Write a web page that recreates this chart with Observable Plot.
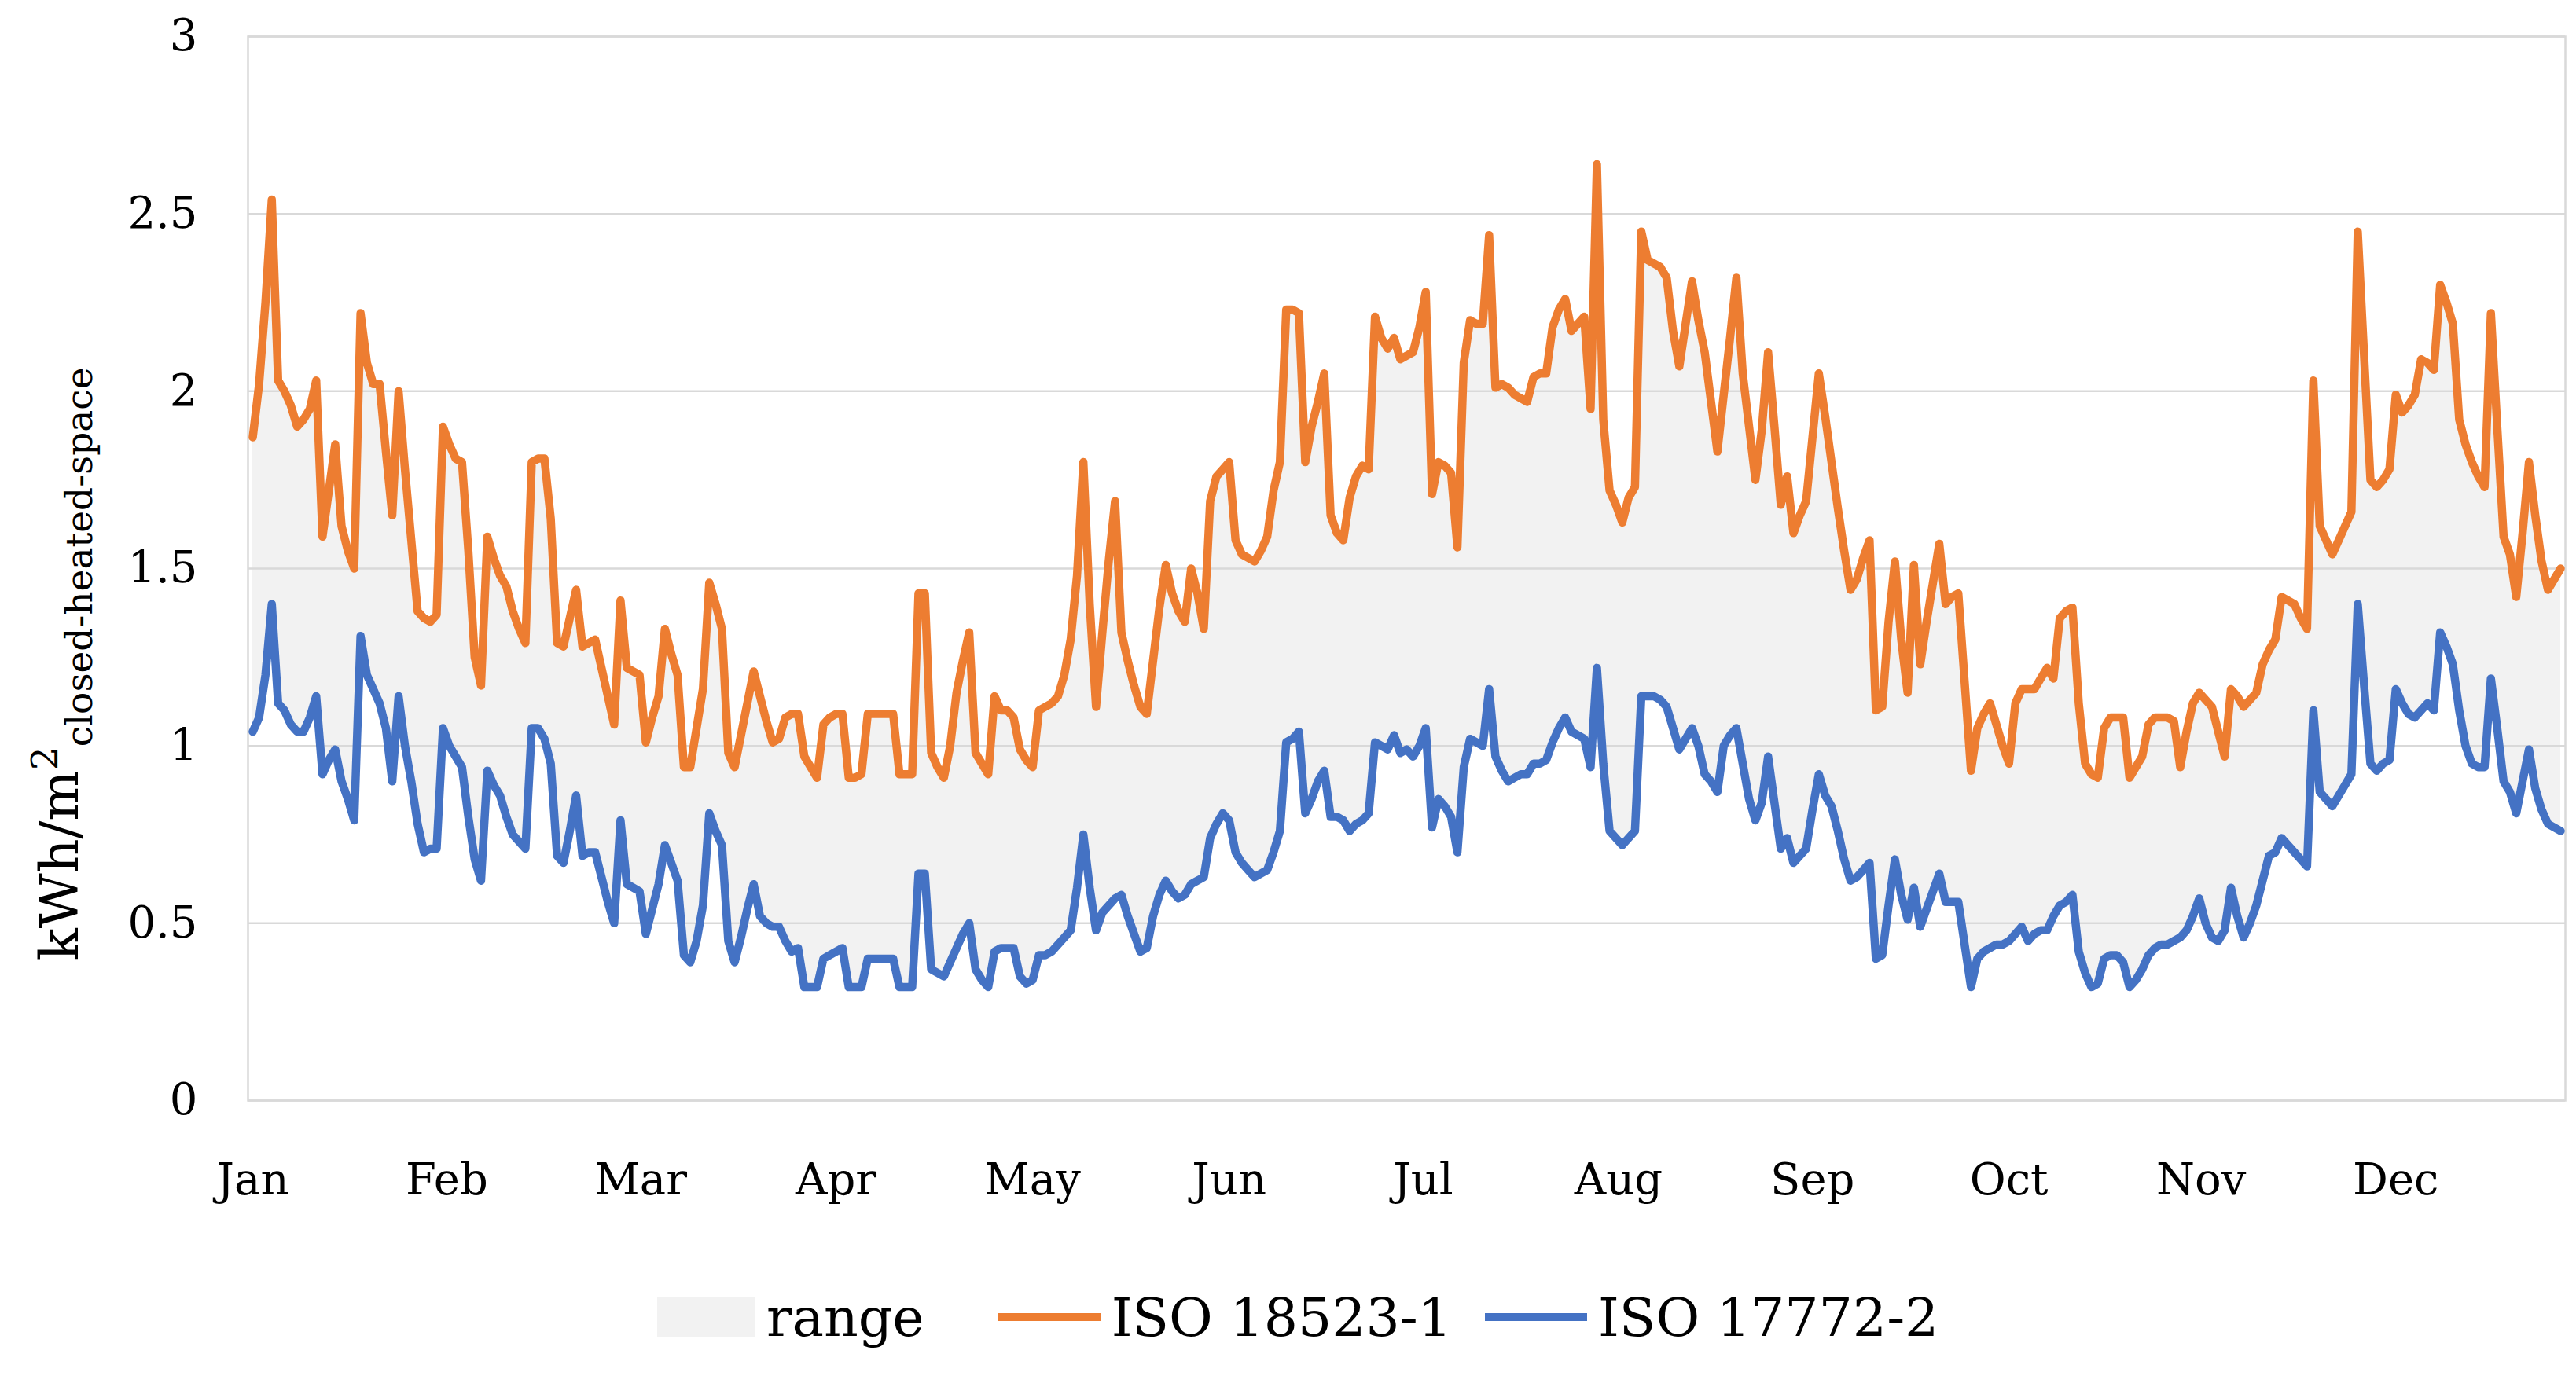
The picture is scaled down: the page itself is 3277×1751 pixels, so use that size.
<!DOCTYPE html>
<html>
<head>
<meta charset="utf-8">
<script src="https://cdn.jsdelivr.net/npm/d3@7"></script>
<script src="https://cdn.jsdelivr.net/npm/@observablehq/plot@0.6"></script>
<style>
  html, body { margin: 0; padding: 0; background: #fff; }
  body { width: 3277px; height: 1751px; overflow: hidden; position: relative; font-family: "DejaVu Serif", serif; }
  #chart { position: absolute; left: 0; top: 0; }
  #legend { position: absolute; left: 0; top: 1626px; width: 3277px; height: 100px;
            display: flex; align-items: center; box-sizing: border-box; padding-left: 836px;
            font-family: "DejaVu Serif", serif; font-size: 68px; color: #000; }
  .sw { display: inline-block; flex: none; }
  .lab { margin-left: 14px; white-space: nowrap; }
</style>
</head>
<body>
<div id="chart"></div>
<div id="legend"></div>
<script>
// ISO 18523-1 daily values (kWh/m2), Jan 1 .. Dec 31
const iso18523 = [
  1.87, 2.02, 2.25, 2.54, 2.03, 2.00, 1.96, 1.90, 1.92, 1.95,
  2.03, 1.59, 1.72, 1.85, 1.62, 1.55, 1.50, 2.22, 2.08, 2.02,
  2.02, 1.83, 1.65, 2.00, 1.78, 1.58, 1.38, 1.36, 1.35, 1.37,
  1.90, 1.85, 1.81, 1.80, 1.55, 1.25, 1.17, 1.59, 1.53, 1.48,
  1.45, 1.38, 1.33, 1.29, 1.80, 1.81, 1.81, 1.64, 1.29, 1.28,
  1.36, 1.44, 1.28, 1.29, 1.30, 1.22, 1.14, 1.06, 1.41, 1.22,
  1.21, 1.20, 1.01, 1.08, 1.14, 1.33, 1.26, 1.20, 0.94, 0.94,
  1.05, 1.16, 1.46, 1.40, 1.33, 0.98, 0.94, 1.03, 1.12, 1.21,
  1.14, 1.07, 1.01, 1.02, 1.08, 1.09, 1.09, 0.97, 0.94, 0.91,
  1.06, 1.08, 1.09, 1.09, 0.91, 0.91, 0.92, 1.09, 1.09, 1.09,
  1.09, 1.09, 0.92, 0.92, 0.92, 1.43, 1.43, 0.98, 0.94, 0.91,
  1.00, 1.15, 1.24, 1.32, 0.98, 0.95, 0.92, 1.14, 1.10, 1.10,
  1.08, 0.99, 0.96, 0.94, 1.10, 1.11, 1.12, 1.14, 1.20, 1.30,
  1.48, 1.80, 1.40, 1.11, 1.32, 1.52, 1.69, 1.32, 1.24, 1.17,
  1.11, 1.09, 1.24, 1.39, 1.51, 1.43, 1.38, 1.35, 1.50, 1.43,
  1.33, 1.69, 1.76, 1.78, 1.80, 1.58, 1.54, 1.53, 1.52, 1.55,
  1.59, 1.72, 1.80, 2.23, 2.23, 2.22, 1.80, 1.90, 1.97, 2.05,
  1.65, 1.60, 1.58, 1.70, 1.76, 1.79, 1.78, 2.21, 2.15, 2.12,
  2.15, 2.09, 2.10, 2.11, 2.18, 2.28, 1.71, 1.80, 1.79, 1.77,
  1.56, 2.08, 2.20, 2.19, 2.19, 2.44, 2.01, 2.02, 2.01, 1.99,
  1.98, 1.97, 2.04, 2.05, 2.05, 2.18, 2.23, 2.26, 2.17, 2.19,
  2.21, 1.95, 2.64, 1.92, 1.72, 1.68, 1.63, 1.70, 1.73, 2.45,
  2.37, 2.36, 2.35, 2.32, 2.17, 2.07, 2.19, 2.31, 2.20, 2.11,
  1.97, 1.83, 1.99, 2.15, 2.32, 2.05, 1.90, 1.75, 1.89, 2.11,
  1.90, 1.68, 1.76, 1.60, 1.65, 1.69, 1.87, 2.05, 1.93, 1.80,
  1.67, 1.55, 1.44, 1.47, 1.53, 1.58, 1.10, 1.11, 1.35, 1.52,
  1.30, 1.15, 1.51, 1.23, 1.35, 1.46, 1.57, 1.40, 1.42, 1.43,
  1.18, 0.93, 1.05, 1.09, 1.12, 1.06, 1.00, 0.95, 1.12, 1.16,
  1.16, 1.16, 1.19, 1.22, 1.19, 1.36, 1.38, 1.39, 1.12, 0.95,
  0.92, 0.91, 1.05, 1.08, 1.08, 1.08, 0.91, 0.94, 0.97, 1.06,
  1.08, 1.08, 1.08, 1.07, 0.94, 1.04, 1.12, 1.15, 1.13, 1.11,
  1.04, 0.97, 1.16, 1.14, 1.11, 1.13, 1.15, 1.23, 1.27, 1.30,
  1.42, 1.41, 1.40, 1.36, 1.33, 2.03, 1.62, 1.58, 1.54, 1.58,
  1.62, 1.66, 2.45, 2.10, 1.75, 1.73, 1.75, 1.78, 1.99, 1.94,
  1.96, 1.99, 2.09, 2.08, 2.06, 2.30, 2.25, 2.19, 1.92, 1.85,
  1.80, 1.76, 1.73, 2.22, 1.90, 1.59, 1.54, 1.42, 1.60, 1.80,
  1.65, 1.52, 1.44, 1.47, 1.50
];

// ISO 17772-2 daily values (kWh/m2), Jan 1 .. Dec 31
const iso17772 = [
  1.04, 1.08, 1.20, 1.40, 1.12, 1.10, 1.06, 1.04, 1.04, 1.08,
  1.14, 0.92, 0.96, 0.99, 0.90, 0.85, 0.79, 1.31, 1.20, 1.16,
  1.12, 1.05, 0.90, 1.14, 1.00, 0.90, 0.78, 0.70, 0.71, 0.71,
  1.05, 1.00, 0.97, 0.94, 0.80, 0.68, 0.62, 0.93, 0.89, 0.86,
  0.80, 0.75, 0.73, 0.71, 1.05, 1.05, 1.02, 0.95, 0.69, 0.67,
  0.76, 0.86, 0.69, 0.70, 0.70, 0.63, 0.56, 0.50, 0.79, 0.61,
  0.60, 0.59, 0.47, 0.54, 0.61, 0.72, 0.67, 0.62, 0.41, 0.39,
  0.45, 0.55, 0.81, 0.76, 0.72, 0.45, 0.39, 0.46, 0.54, 0.61,
  0.52, 0.50, 0.49, 0.49, 0.45, 0.42, 0.43, 0.32, 0.32, 0.32,
  0.40, 0.41, 0.42, 0.43, 0.32, 0.32, 0.32, 0.40, 0.40, 0.40,
  0.40, 0.40, 0.32, 0.32, 0.32, 0.64, 0.64, 0.37, 0.36, 0.35,
  0.39, 0.43, 0.47, 0.50, 0.37, 0.34, 0.32, 0.42, 0.43, 0.43,
  0.43, 0.35, 0.33, 0.34, 0.41, 0.41, 0.42, 0.44, 0.46, 0.48,
  0.60, 0.75, 0.60, 0.48, 0.53, 0.55, 0.57, 0.58, 0.52, 0.47,
  0.42, 0.43, 0.52, 0.58, 0.62, 0.59, 0.57, 0.58, 0.61, 0.62,
  0.63, 0.74, 0.78, 0.81, 0.79, 0.70, 0.67, 0.65, 0.63, 0.64,
  0.65, 0.70, 0.76, 1.01, 1.02, 1.04, 0.81, 0.85, 0.90, 0.93,
  0.80, 0.80, 0.79, 0.76, 0.78, 0.79, 0.81, 1.01, 1.00, 0.99,
  1.03, 0.98, 0.99, 0.97, 1.00, 1.05, 0.77, 0.85, 0.83, 0.80,
  0.70, 0.94, 1.02, 1.01, 1.00, 1.16, 0.97, 0.93, 0.90, 0.91,
  0.92, 0.92, 0.95, 0.95, 0.96, 1.01, 1.05, 1.08, 1.04, 1.03,
  1.02, 0.94, 1.22, 0.95, 0.76, 0.74, 0.72, 0.74, 0.76, 1.14,
  1.14, 1.14, 1.13, 1.11, 1.05, 0.99, 1.02, 1.05, 1.00, 0.92,
  0.90, 0.87, 1.00, 1.03, 1.05, 0.95, 0.85, 0.79, 0.84, 0.97,
  0.84, 0.71, 0.74, 0.67, 0.69, 0.71, 0.82, 0.92, 0.86, 0.83,
  0.76, 0.68, 0.62, 0.63, 0.65, 0.67, 0.40, 0.41, 0.55, 0.68,
  0.58, 0.51, 0.60, 0.49, 0.54, 0.59, 0.64, 0.56, 0.56, 0.56,
  0.44, 0.32, 0.40, 0.42, 0.43, 0.44, 0.44, 0.45, 0.47, 0.49,
  0.45, 0.47, 0.48, 0.48, 0.52, 0.55, 0.56, 0.58, 0.42, 0.36,
  0.32, 0.33, 0.40, 0.41, 0.41, 0.39, 0.32, 0.34, 0.37, 0.41,
  0.43, 0.44, 0.44, 0.45, 0.46, 0.48, 0.52, 0.57, 0.50, 0.46,
  0.45, 0.48, 0.60, 0.52, 0.46, 0.50, 0.55, 0.62, 0.69, 0.70,
  0.74, 0.72, 0.70, 0.68, 0.66, 1.10, 0.87, 0.85, 0.83, 0.86,
  0.89, 0.92, 1.40, 1.17, 0.95, 0.93, 0.95, 0.96, 1.16, 1.12,
  1.09, 1.08, 1.10, 1.12, 1.10, 1.32, 1.28, 1.23, 1.10, 1.00,
  0.95, 0.94, 0.94, 1.19, 1.05, 0.90, 0.87, 0.81, 0.90, 0.99,
  0.88, 0.82, 0.78, 0.77, 0.76
];

// x-axis tick labels and the day index where each label sits
const monthLabels = ["Jan", "Feb", "Mar", "Apr", "May", "Jun", "Jul", "Aug", "Sep", "Oct", "Nov", "Dec"];
const monthTickDays = [0, 30.6, 61.2, 92, 123, 154, 184.6, 215.4, 246, 277, 307.3, 338];
// y-axis ticks
const yTicks = [0, 0.5, 1, 1.5, 2, 2.5, 3];
// legend entries
const seriesNames = ["range", "ISO 18523-1", "ISO 17772-2"];
const colors = { range: "#f2f2f2", a: "#ED7D31", b: "#4472C4", grid: "#d9d9d9" };

const data = iso18523.map((v, i) => ({ day: i, a: v, b: iso17772[i] }));

const plot = Plot.plot({
  width: 3277,
  height: 1560,
  marginLeft: 315,
  marginRight: 14,
  marginTop: 46,
  marginBottom: 160,
  style: { fontFamily: "DejaVu Serif, serif", fontSize: "56px", color: "#000", background: "#fff", overflow: "visible" },
  x: { domain: [-0.75, 364.75] },
  y: { domain: [0, 3] },
  marks: [
    Plot.areaY(data, { x: "day", y1: "b", y2: "a", fill: colors.range }),
    Plot.ruleY(yTicks, { stroke: colors.grid, strokeWidth: 2.5 }),
    Plot.frame({ stroke: colors.grid, strokeWidth: 2.5 }),
    Plot.lineY(data, { x: "day", y: "a", stroke: colors.a, strokeWidth: 10.5, strokeLinejoin: "round" }),
    Plot.lineY(data, { x: "day", y: "b", stroke: colors.b, strokeWidth: 10.5, strokeLinejoin: "round" }),
    Plot.axisY({ ticks: yTicks, tickSize: 0, tickPadding: 64, tickFormat: d => String(d), label: null }),
    Plot.axisX({ ticks: monthTickDays, tickSize: 0, tickPadding: 80,
                 tickFormat: d => monthLabels[monthTickDays.indexOf(d)], label: null })
  ]
});
document.getElementById("chart").appendChild(plot);

// y-axis title with superscript and subscript
const svg = d3.select(plot);
const title = svg.append("text")
  .attr("transform", "translate(99,845) rotate(-90)")
  .attr("text-anchor", "middle")
  .attr("fill", "#000")
  .style("font-family", "DejaVu Serif, serif")
  .style("font-size", "68px");
title.append("tspan").text("kWh/m");
title.append("tspan").attr("dy", "-26").style("font-size", "47px").text("2");
title.append("tspan").attr("dy", "44").style("font-size", "47px").text("closed-heated-space");

// legend
const legend = d3.select("#legend");
legend.append("span").attr("class", "sw").style("width", "125px").style("height", "52px").style("background", colors.range);
legend.append("span").attr("class", "lab").text(seriesNames[0]);
legend.append("span").attr("class", "sw").style("width", "130px").style("height", "10px").style("background", colors.a).style("margin-left", "94px");
legend.append("span").attr("class", "lab").text(seriesNames[1]);
legend.append("span").attr("class", "sw").style("width", "130px").style("height", "10px").style("background", colors.b).style("margin-left", "42px");
legend.append("span").attr("class", "lab").text(seriesNames[2]);
</script>
</body>
</html>
